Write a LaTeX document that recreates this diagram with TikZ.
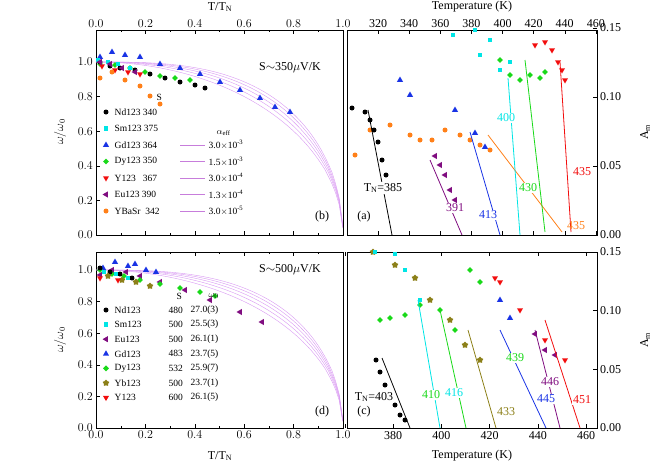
\documentclass[tikz,border=0pt]{standalone}
\usepackage{fontspec}
\setmainfont{Liberation Serif}
\usetikzlibrary{shapes.geometric}
\definecolor{ndc}{rgb}{0,0,0}
\definecolor{smc}{rgb}{0,0.9,0.9}
\definecolor{gdc}{rgb}{0.1,0.2,0.9}
\definecolor{dyc}{rgb}{0.1,0.85,0.1}
\definecolor{yc}{rgb}{0.95,0.05,0.05}
\definecolor{euc}{rgb}{0.5,0.05,0.5}
\definecolor{orc}{rgb}{1,0.5,0.1}
\definecolor{ybc}{rgb}{0.55,0.5,0.1}
\definecolor{fitc}{rgb}{0.85,0.6,0.95}

\begin{document}
\begin{tikzpicture}[x=1pt,y=-1pt,font=\fontsize{12}{13}\selectfont]
	
	\tikzset{mk/.style={inner sep=0pt,draw=none,minimum size=5pt}}
	\tikzset{mcirc/.style={mk,circle,fill=#1}}
	\tikzset{msq/.style={mk,rectangle,fill=#1,minimum size=4.3pt}}
	\tikzset{mup/.style={mk,regular polygon,regular polygon sides=3,fill=#1,minimum size=7pt}}
	\tikzset{mdn/.style={mup=#1,shape border rotate=180}}
	\tikzset{mlf/.style={mup=#1,shape border rotate=90}}
	\tikzset{mdia/.style={mk,diamond,fill=#1,minimum size=6pt}}
	\tikzset{mstar/.style={mk,star,star points=5,fill=#1,minimum size=7pt}}
	\tikzset{frame/.style={draw,line width=0.5pt}}
	\tikzset{lab/.style={inner sep=1pt}}
	\tikzset{leg/.style={anchor=west,inner sep=0.5pt,font=\fontsize{9.5}{10}\selectfont}}
	
	\useasboundingbox (0,0) rectangle (667,467);
	
	% frames
	\draw[frame] (96,30) rectangle (343,235);
	\draw[frame] (347,30) rectangle (597,235);
	\draw[frame] (96,252) rectangle (343,428);
	\draw[frame] (347,252) rectangle (597,428);
	
	% ticks of the left panels
	\foreach \i in {0,...,10}{
		\pgfmathsetmacro{\xx}{96+24.7*\i}
		\pgfmathsetmacro{\tl}{mod(\i,2)==0 ? 4 : 2}
		\draw (\xx,30) -- ++(0,\tl) (\xx,235) -- ++(0,-\tl);
		\draw (\xx,252) -- ++(0,\tl) (\xx,428) -- ++(0,-\tl);
	}
	\foreach \i in {0,...,5}{
		\pgfmathsetmacro{\xx}{96+49.4*\i}
		\pgfmathsetmacro{\tv}{0.2*\i}
		\node[lab,anchor=south] at (\xx,29) {\pgfmathprintnumber[fixed,precision=1,zerofill]{\tv}};
		\node[lab,anchor=north] at (\xx,430) {\pgfmathprintnumber[fixed,precision=1,zerofill]{\tv}};
		\draw (96,{235-34.6*\i}) -- ++(4,0) (96,{428-31.6*\i}) -- ++(4,0);
		\node[lab,anchor=east] at (94,{235-34.6*\i}) {\pgfmathprintnumber[fixed,precision=1,zerofill]{\tv}};
		\node[lab,anchor=east] at (94,{428-31.6*\i}) {\pgfmathprintnumber[fixed,precision=1,zerofill]{\tv}};
	}
	\node (ttop) at (220,7) {T/T\textsubscript{N}};
	\node (tbot) at (220,456) {T/T\textsubscript{N}};
	\node[rotate=90] (wtop) at (60,132) {$\omega/\omega_0$};
	\node[rotate=90] (wbot) at (60,340) {$\omega/\omega_0$};
	
	% ticks of the right panels
	\foreach \t in {300,320,...,460}{
		\pgfmathsetmacro{\xx}{347+1.555*(\t-300)}
		\draw (\xx,30) -- ++(0,4) (\xx,235) -- ++(0,-4);
	}
	\foreach \t in {320,340,...,460}
		\node[lab,anchor=south] at ({347+1.555*(\t-300)},29) {\t};
	\foreach \t in {360,380,...,460}{
		\pgfmathsetmacro{\xx}{345+2.41*(\t-360)}
		\draw (\xx,252) -- ++(0,4) (\xx,428) -- ++(0,-4);
	}
	\foreach \t in {380,400,...,460}
		\node[lab,anchor=north] at ({345+2.41*(\t-360)},430) {\t};
	\foreach \a/\s in {0/0.00,1/0.05,2/0.10,3/0.15}{
		\draw (597,{235-69*\a}) -- ++(-4,0) (597,{428-58.7*\a}) -- ++(-4,0);
		\node[lab,anchor=west] at (599,{235-69*\a}) {\s};
		\node[lab,anchor=west] at (599,{428-58.7*\a}) {\s};
	}
	\node (temptop) at (472,7) {Temperature (K)};
	\node (tempbot) at (472,456) {Temperature (K)};
	\node[rotate=90] (amtop) at (645,132) {A\textsubscript{m}};
	\node[rotate=90] (ambot) at (645,340) {A\textsubscript{m}};
	
	% model curves
	\foreach \n in {2.0,2.25,2.5,2.75,3.0}{
		\draw[fitc,line width=0.4pt] plot[domain=0:1,samples=70] ({96+247*\x},{235-173*(1-\x^\n)^0.5});
		\draw[fitc,line width=0.4pt] plot[domain=0:1,samples=70] ({96+247*\x},{428-158*(1-\x^\n)^0.5});
	}
	
	% (b) data
	\foreach \x/\y in {100/57,112/52,125/55,140/57,160/64,180/68,200/74,220/82,240/90,260/98,275/107,290/112}
		\node[mup=gdc] at (\x,\y) {};
	\foreach \x/\y in {100/64,115/65,130/68,145/72,160/76,175/78,190/80}
		\node[mdia=dyc] at (\x,\y) {};
	\foreach \x/\y in {100/62,110/66,120/68,135/70,150/74,165/78,180/82,195/85,205/88}
		\node[mcirc=ndc] at (\x,\y) {};
	\foreach \x/\y in {98/60,108/62,118/64,130/68}
		\node[msq=smc] at (\x,\y) {};
	\foreach \x/\y in {102/66,115/70,128/72,140/74}
		\node[mdn=yc] at (\x,\y) {};
	\foreach \x/\y in {100/62,110/64,122/68,135/72}
		\node[mlf=euc] at (\x,\y) {};
	\foreach \x/\y in {100/78,112/72,125/80,140/86,150/96,160/104}
		\node[mcirc=orc] at (\x,\y) {};
	
	% (b) legend
	\node (s350) at (290,68) {S$\sim$350$\mu$V/K};
	\node[leg] (sh) at (156,97) {S};
	\node[leg] (ah) at (216,133) {$\alpha_{\mathrm{eff}}$};
	\foreach \c/\m/\t/\a/\k in {ndc/mcirc/Nd123 340//0,smc/msq/Sm123 375//1,gdc/mup/Gd123 364/3.0$\times$10\textsuperscript{-3}/2,dyc/mdia/Dy123 350/1.5$\times$10\textsuperscript{-3}/3,yc/mdn/Y123\ \ \ 367/3.0$\times$10\textsuperscript{-4}/4,euc/mlf/Eu123 390/1.3$\times$10\textsuperscript{-4}/5,orc/mcirc/YBaSr\ \ 342/3.0$\times$10\textsuperscript{-5}/6}{
		\node[\m=\c] at (106,{112+16.5*\k}) {};
		\node[leg] at (114,{112+16.5*\k}) {\t};
		\ifnum\k>1
		\draw[fitc!80!euc,line width=0.4pt] (180,{112+16.5*\k}) -- (205,{112+16.5*\k});
		\node[leg] at (208,{112+16.5*\k}) {\a};
		\fi
	}
	\node (lb) at (322,217) {(b)};
	
	% (d) data
	\foreach \x/\y in {100/275,112/270,126/272,140/276,160/282,185/290,210/300,240/312,262/322}
		\node[mlf=euc] at (\x,\y) {};
	\foreach \x/\y in {103/268,115/262,128/266,135/264,146/270,156/272}
		\node[mup=gdc] at (\x,\y) {};
	\foreach \x/\y in {100/270,112/274,124/276,140/280,160/284,180/288,200/292,215/296}
		\node[mdia=dyc] at (\x,\y) {};
	\foreach \x/\y in {100/268,110/272,120/274,132/278}
		\node[mcirc=ndc] at (\x,\y) {};
	\foreach \x/\y in {104/272,116/274,128/278}
		\node[msq=smc] at (\x,\y) {};
	\foreach \x/\y in {108/276,122/280,136/282,150/286}
		\node[mstar=ybc] at (\x,\y) {};
	\foreach \x/\y in {100/278,118/280}
		\node[mdn=yc] at (\x,\y) {};
	
	% (d) legend
	\node (s500) at (290,270) {S$\sim$500$\mu$V/K};
	\node[leg] (sh2) at (176,296) {S};
	\node[leg] (wh2) at (208,296) {$\omega_0$};
	\foreach \c/\m/\t/\s/\w/\k in {ndc/mcirc/Nd123/480/27.0(3)/0,smc/msq/Sm123/500/25.5(3)/1,euc/mlf/Eu123/500/26.1(1)/2,gdc/mup/Gd123/483/23.7(5)/3,dyc/mdia/Dy123/532/25.9(7)/4,ybc/mstar/Yb123/500/23.7(1)/5,yc/mdn/Y123/600/26.1(5)/6}{
		\node[\m=\c] at (106,{310+14.6*\k}) {};
		\node[leg] at (114,{310+14.6*\k}) {\t};
		\node[leg] at (168,{310+14.6*\k}) {\s};
		\node[leg] at (190,{310+14.6*\k}) {\w};
	}
	\node (ld) at (322,412) {(d)};
	
	% (a) data and fits
	\foreach \x/\y in {410/95,455/110,475/133,485/147,400/80}
		\node[mup=gdc] at (\x,\y) {};
	\foreach \x/\y in {355/155,370/130,390/125,410/135,420/140,432/140,445/130,460/135,470/140,480/145,490/150}
		\node[mcirc=orc] at (\x,\y) {};
	\foreach \x/\y in {453/35,475/30,490/40,510/62,480/55,500/70}
		\node[msq=smc] at (\x,\y) {};
	\foreach \x/\y in {500/60,510/75,520/80,530/75,540/78,545/72}
		\node[mdia=dyc] at (\x,\y) {};
	\foreach \x/\y in {535/45,545/42,552/50,558/62,562/70,565/80}
		\node[mdn=yc] at (\x,\y) {};
	\foreach \x/\y in {435/156,440/165,445/175,450/190,455/200}
		\node[mlf=euc] at (\x,\y) {};
	\foreach \x/\y in {352/108,365/112,370/120,374/130,378/142,382/160,386/175,389/190}
		\node[mcirc=ndc] at (\x,\y) {};
	\coordinate (a1) at (368,110); \coordinate (a2) at (392,235);
	\coordinate (e1) at (430,160); \coordinate (e2) at (462,235);
	\coordinate (g1) at (470,132); \coordinate (g2) at (500,235);
	\coordinate (o1) at (488,135); \coordinate (o2) at (562,232);
	\coordinate (d1) at (525,60);  \coordinate (d2) at (545,232);
	\coordinate (s1) at (508,78);  \coordinate (s2) at (520,235);
	\coordinate (r1) at (560,62);  \coordinate (r2) at (571,232);
	\draw[ndc,thick] (a1) -- (a2);
	\draw[euc,thick] (e1) -- (e2);
	\draw[gdc,thick] (g1) -- (g2);
	\draw[orc,thick] (o1) -- (o2);
	\draw[dyc,thick] (d1) -- (d2);
	\draw[smc,thick] (s1) -- (s2);
	\draw[yc,thick] (r1) -- (r2);
	\node[fill=white,lab] (tn385) at (383,188) {T\textsubscript{N}=385};
	\node[fill=white,lab,text=euc] (l391) at (455,208) {391};
	\node[fill=white,lab,text=gdc] (l413) at (488,215) {413};
	\node[fill=white,lab,text=smc] (l400) at (506,118) {400};
	\node[fill=white,lab,text=dyc] (l430) at (528,188) {430};
	\node[fill=white,lab,text=yc] (l435r) at (582,172) {435};
	\node[lab,text=orc] (l435o) at (576,226) {435};
	\node (la) at (364,217) {(a)};
	
	% (c) data and fits
	\foreach \x/\y in {373/252,395/265,415/278,430/300,450/320,465/345,480/360}
		\node[mstar=ybc] at (\x,\y) {};
	\foreach \x/\y in {380/320,390/318,405/315,420/305,440/310,455/330,470/270,480/282}
		\node[mdia=dyc] at (\x,\y) {};
	\foreach \x/\y in {375/252,395/254,405/270,420/300}
		\node[msq=smc] at (\x,\y) {};
	\foreach \x/\y in {500/300,510/318}
		\node[mup=gdc] at (\x,\y) {};
	\foreach \x/\y in {535/334,545/350,555/355}
		\node[mlf=euc] at (\x,\y) {};
	\foreach \x/\y in {495/278,500/282,520/310,545/340,565/360}
		\node[mdn=yc] at (\x,\y) {};
	\foreach \x/\y in {376/360,380/372,385/385,390/395,395/405,400/415,405/420}
		\node[mcirc=ndc] at (\x,\y) {};
	\coordinate (cb1) at (382,358); \coordinate (cb2) at (410,428);
	\coordinate (cs1) at (418,300); \coordinate (cs2) at (440,428);
	\coordinate (cd1) at (440,310); \coordinate (cd2) at (466,428);
	\coordinate (cy1) at (468,330); \coordinate (cy2) at (496,428);
	\coordinate (cg1) at (500,330); \coordinate (cg2) at (546,428);
	\coordinate (ce1) at (535,330); \coordinate (ce2) at (560,428);
	\coordinate (cr1) at (545,320); \coordinate (cr2) at (580,428);
	\draw[ndc,thick] (cb1) -- (cb2);
	\draw[smc,thick] (cs1) -- (cs2);
	\draw[dyc,thick] (cd1) -- (cd2);
	\draw[ybc,thick] (cy1) -- (cy2);
	\draw[gdc,thick] (cg1) -- (cg2);
	\draw[euc,thick] (ce1) -- (ce2);
	\draw[yc,thick] (cr1) -- (cr2);
	\node[fill=white,lab] (tn403) at (374,397) {T\textsubscript{N}=403};
	\node[fill=white,lab,text=dyc] (l410) at (431,395) {410};
	\node[fill=white,lab,text=smc] (l416) at (454,393) {416};
	\node[fill=white,lab,text=dyc] (l439) at (515,358) {439};
	\node[fill=white,lab,text=ybc] (l433) at (506,412) {433};
	\node[fill=white,lab,text=gdc] (l445) at (546,399) {445};
	\node[fill=white,lab,text=euc] (l446) at (550,382) {446};
	\node[fill=white,lab,text=yc] (l451) at (582,400) {451};
	\node (lc) at (364,412) {(c)};
\end{tikzpicture}
\end{document}
